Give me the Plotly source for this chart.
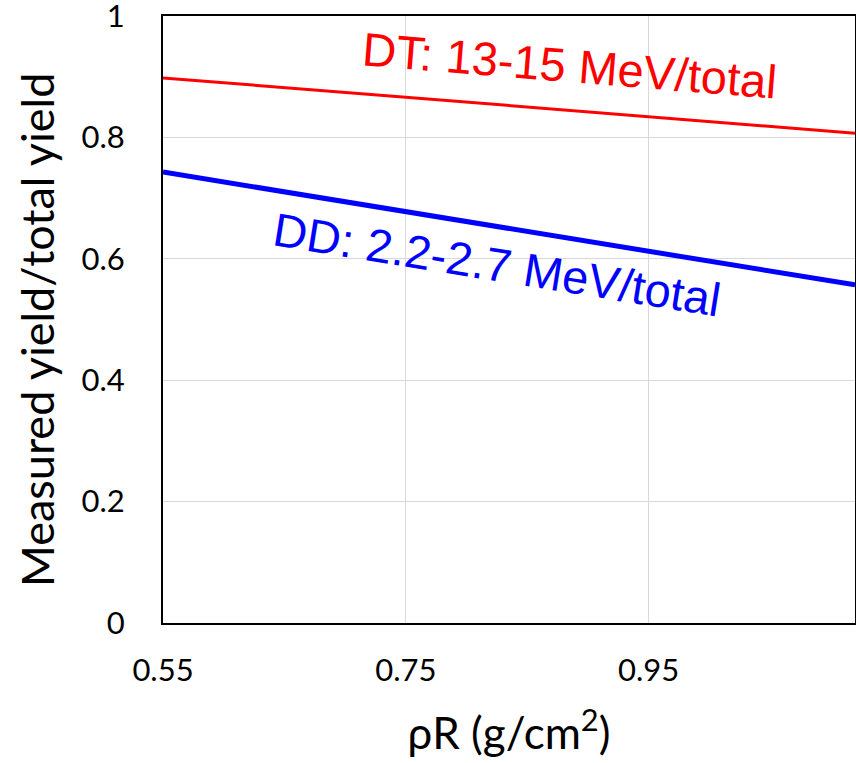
import plotly.graph_objects as go

x_vals = [0.55, 1.12]
dt_ratio = [0.898, 0.807]
dd_ratio = [0.743, 0.557]
x_ticks = [0.55, 0.75, 0.95]
y_ticks = [0, 0.2, 0.4, 0.6, 0.8, 1]
y_tick_labels = ["0", "0.2", "0.4", "0.6", "0.8", "1"]

hum = "Lato, Open Sans, sans-serif"
arial = "Liberation Sans, Arial, sans-serif"

fig = go.Figure()
fig.add_trace(go.Scatter(x=x_vals, y=dt_ratio, mode="lines",
                         line=dict(color="#ff0000", width=3), showlegend=False))
fig.add_trace(go.Scatter(x=x_vals, y=dd_ratio, mode="lines",
                         line=dict(color="#0000ff", width=5), showlegend=False))

fig.add_annotation(x=0.885, y=0.918, text="DT: 13-15 MeV/total", showarrow=False,
                   textangle=4.6, font=dict(family=arial, size=47, color="#ff0000"))
fig.add_annotation(x=0.825, y=0.590, text="DD: 2.2-2.7 MeV/total", showarrow=False,
                   textangle=9.1, font=dict(family=arial, size=47, color="#0000ff"))

# y-axis title placed as paper annotation for exact position
fig.add_annotation(xref="paper", yref="paper", x=-0.182, y=0.483,
                   xanchor="center", yanchor="middle",
                   text="Measured yield/total yield", showarrow=False, textangle=-90,
                   font=dict(family=hum, size=45, color="black"))

fig.update_layout(
    width=856, height=763,
    margin=dict(l=163, r=1, t=16, b=140),
    plot_bgcolor="white", paper_bgcolor="white",
)
fig.update_xaxes(range=[0.55, 1.12], tickvals=x_ticks, tickformat=".2f",
                 showgrid=True, gridcolor="#d9d9d9", gridwidth=1,
                 showline=True, linecolor="black", linewidth=2, mirror=True,
                 zeroline=False, ticks="", ticklabelstandoff=19, automargin=False,
                 tickfont=dict(family=hum, size=31, color="black"),
                 title=dict(text="ρR (g/cm<sup>2</sup>)", font=dict(family=hum, size=44, color="black"), standoff=31))
fig.update_yaxes(range=[0, 1], tickvals=y_ticks, ticktext=y_tick_labels,
                 showgrid=True, gridcolor="#d9d9d9", gridwidth=1,
                 showline=True, linecolor="black", linewidth=2, mirror=True,
                 zeroline=False, ticks="", ticklabelstandoff=30, ticklabeloverflow="allow",
                 automargin=False,
                 tickfont=dict(family=hum, size=31, color="black"))

fig.write_html("out.html")
